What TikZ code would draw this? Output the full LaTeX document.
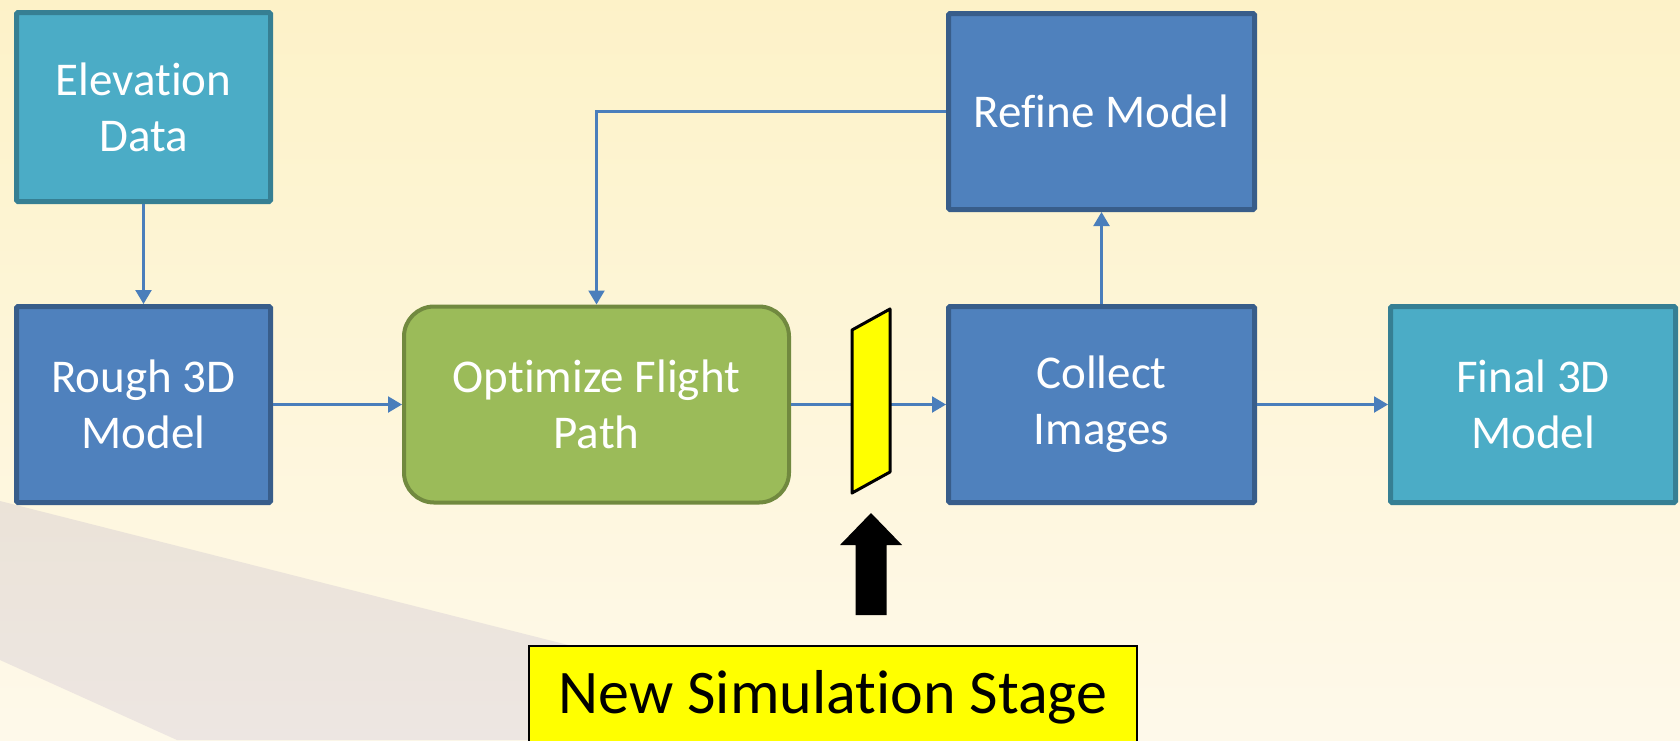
\documentclass[tikz,border=0pt]{standalone}
\usepackage{fontspec}
\setmainfont[Ligatures=NoCommon]{Carlito}
\usetikzlibrary{arrows.meta,positioning,calc}
\definecolor{smbgtop}{HTML}{FDF2C8}
\definecolor{smbgbot}{HTML}{FEF9EA}
\definecolor{smwedge}{HTML}{EBE3D8}
\definecolor{smwedgeb}{HTML}{EDE6E2}
\definecolor{smblue}{HTML}{4F81BD}
\definecolor{smblued}{HTML}{385D8A}
\definecolor{smteal}{HTML}{4BACC6}
\definecolor{smteald}{HTML}{367F93}
\definecolor{smgreen}{HTML}{9BBB59}
\definecolor{smgreend}{HTML}{71893F}
\definecolor{smarrow}{HTML}{4A7EBB}
\definecolor{smyellow}{HTML}{FFFF00}
\tikzset{
  blk/.style={draw=smblued,fill=smblue,line width=5pt,rounded corners=1.5pt,align=center,
              text=white,font=\fontsize{47}{56}\selectfont,minimum width=254pt,
              minimum height=196pt,inner sep=0pt},
  src/.style={blk,draw=smteald,fill=smteal},
  optbox/.style={blk,draw=smgreend,fill=smgreen,line width=4pt,rounded corners=30pt},
  ar/.style={-{Triangle[length=14pt,width=16pt]},line width=2.2pt,smarrow},
  gate/.style={draw=black,fill=smyellow,line width=3pt,line join=round},
  note/.style={draw=black,fill=smyellow,line width=2pt,minimum width=608pt,
               font=\fontsize{62}{74}\selectfont,text height=45pt,text depth=15pt,
               inner ysep=22pt},
}
\begin{document}
\begin{tikzpicture}[x=1pt,y=-1pt]
  \useasboundingbox (0,0) rectangle (1680,740);
  \shade[top color=smbgtop,bottom color=smbgbot] (0,0) rectangle (1680,740);
  \shade[top color=smwedge,bottom color=smwedgeb] (0,501) -- (943,740) -- (177,740) -- (0,660) -- cycle;
  \node[src,minimum height=189pt] (el) at (143.5,107) {Elevation\\Data};
  \node[blk,below=100pt of el] (rg) {Rough 3D\\Model};
  \node[optbox,right=129pt of rg,minimum width=385pt] (op) {Optimize Flight\\Path};
  \node[blk,right=155pt of op,minimum width=306pt] (ci) {Collect\\Images};
  \node[blk,above=92pt of ci,minimum width=306pt] (rf) {Refine Model};
  \node[src,right=131pt of ci,minimum width=285pt] (fm) {Final 3D\\Model};
  \draw[ar](el)--(rg);
  \draw[ar](rg)--(op);
  \draw[ar](op)--(ci);
  \draw[ar](ci)--(rf);
  \draw[ar](rf.west)-|(op.north);
  \draw[ar](ci)--(fm);
  \coordinate (g) at (871,401);
  \draw[gate] ($(g)+(-19,-71)$) -- ++(38,-21) -- ++(0,163) -- ++(-38,21) -- cycle;
  \fill[black] ($(g)+(0,112)$) -- ++(31,32) -- ++(-15.5,0) -- ++(0,70) -- ++(-31,0)
    -- ++(0,-70) -- ++(-15.5,0) -- cycle;
  \node[note,anchor=north] (ns) at (833,645) {New Simulation Stage};
\end{tikzpicture}
\end{document}
